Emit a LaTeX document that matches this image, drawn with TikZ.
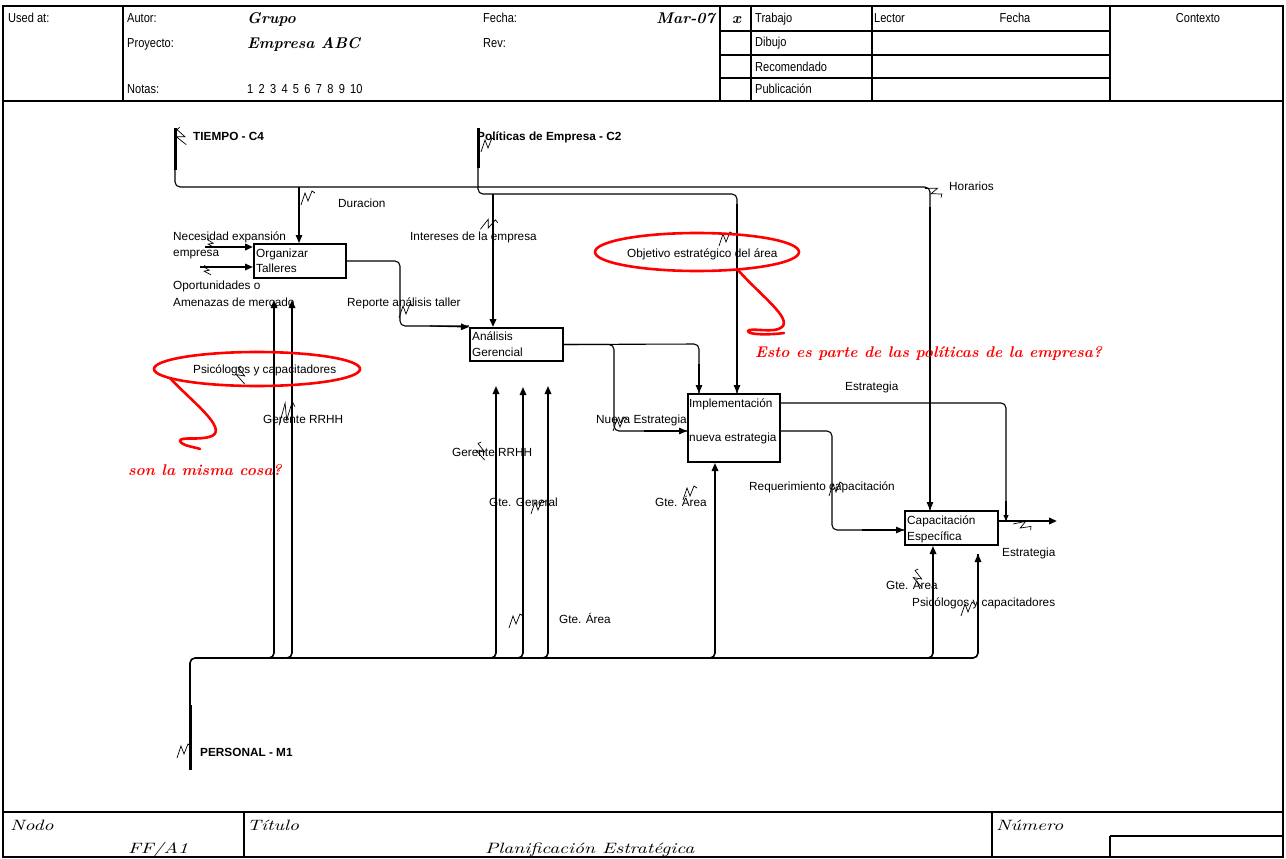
\documentclass[tikz,border=0pt]{standalone}
\usepackage{fontspec}
\newfontfamily\arial{Liberation Sans}
\newfontfamily\arialn[FakeStretch=0.85]{Liberation Sans}
\newfontfamily\footfont[FakeStretch=1.3]{lmroman10-italic.otf}
\usetikzlibrary{arrows.meta,calc}
\tikzset{
 lbl/.style={font=\arial\fontsize{11.8}{13}\selectfont, inner sep=0pt, anchor=base west},
 blbl/.style={font=\arial\bfseries\fontsize{11.8}{13}\selectfont, inner sep=0pt, anchor=base west},
 hdr/.style={font=\arialn\fontsize{13}{15}\selectfont, inner sep=0pt, anchor=base west},
 hscript/.style={font=\bfseries\itshape\fontsize{15.5}{18}\selectfont, inner sep=0pt, anchor=base west},
 fscript/.style={font=\footfont\fontsize{15}{17}\selectfont, inner sep=0pt, anchor=base west},
 redtxt/.style={font=\bfseries\itshape\fontsize{15.5}{17}\selectfont, text=red, inner sep=0pt, anchor=base west},
 frame/.style={line width=2.4pt},
 rowline/.style={line width=1.8pt},
 actbox/.style={draw, line width=2pt, inner sep=0pt, anchor=north west},
 conn/.style={line width=1.1pt, rounded corners=5pt},
 mconn/.style={line width=1.6pt, rounded corners=5pt},
 tconn/.style={line width=2pt, rounded corners=5pt},
 tip/.style={-{Triangle[length=8pt,width=6.5pt]}},
 stip/.style={-{Triangle[length=6pt,width=5pt]}},
 stub/.style={line width=3pt},
 redline/.style={red, line width=2.6pt, line cap=round, line join=round},
 squig/.pic={\draw[line width=0.7pt] (-7,6) -- (-3,-6) -- (0,2) -- (4,-8) -- (7,-6);}
}
\begin{document}
\begin{tikzpicture}[x=1pt,y=-1pt]
\useasboundingbox (0,0) rectangle (1286,859);
% ---------- frame ----------
\draw[frame] (3,6) rectangle (1283,857);
\draw[frame] (3,101) -- (1283,101);
\draw[frame] (3,812) -- (1283,812);
\foreach \x in {123,720,751,872,1110} \draw[frame] (\x,6) -- (\x,101);
\foreach \y in {31,55,78} \draw[rowline] (720,\y) -- (1110,\y);
\draw[frame] (244,812) -- (244,857);
\draw[frame] (992,812) -- (992,857);
\draw[frame] (1110,836) -- (1283,836);
\draw[frame] (1110,836) -- (1110,857);
% ---------- header text ----------
\node[hdr] (usedat) at (8,23) {Used at:};
\node[hdr] (autor) at (127,23) {Autor:};
\node[hdr] (proy) at (127,48) {Proyecto:};
\node[hdr] (notas) at (127,94) {Notas:};
\node[hscript] (grupo) at (247,24) {Grupo};
\node[hscript] (empresa) at (247,49) {Empresa ABC};
\node[hdr] (nums) at (247,94) {\spaceskip=5.3pt 1 2 3 4 5 6 7 8 9 10};
\node[hdr] (fecha) at (483,23) {Fecha:};
\node[hdr] (rev) at (483,48) {Rev:};
\node[hscript, anchor=base east] (mar) at (715,24) {Mar-07};
\node[hscript] (xmark) at (732,24) {x};
\node[hdr] (trabajo) at (755,23) {Trabajo};
\node[hdr] (dibujo) at (755,47) {Dibujo};
\node[hdr] (recom) at (755,71) {Recomendado};
\node[hdr] (publ) at (755,94) {Publicación};
\node[hdr] (lector) at (874,23) {Lector};
\node[hdr, anchor=base] (fecha2) at (1015,23) {Fecha};
\node[hdr, anchor=base] (contexto) at (1198,23) {Contexto};
% ---------- footer text ----------
\node[fscript] (nodo) at (10,830) {Nodo};
\node[fscript] (ffa) at (128,853) {FF/A1};
\node[fscript] (titulo) at (247,830) {Título};
\node[fscript] (plan) at (485,853) {Planificación Estratégica};
\node[fscript] (numero) at (996,830) {Número};
% ---------- activity boxes ----------
\node[actbox, minimum width=92pt, minimum height=34pt] (org) at (253,243) {};
\node[actbox, minimum width=93pt, minimum height=33pt] (ana) at (469,327) {};
\node[actbox, minimum width=92pt, minimum height=68pt] (imp) at (687,393) {};
\node[actbox, minimum width=93pt, minimum height=34pt] (cap) at (904,510) {};
\node[lbl] (orgA) at (256,257) {Organizar};
\node[lbl] (orgB) at (256,272) {Talleres};
\node[lbl] (anaA) at (472,340) {Análisis};
\node[lbl] (anaB) at (472,356) {Gerencial};
\node[lbl] (impA) at (689,407) {Implementación};
\node[lbl] (impB) at (689,441) {nueva estrategia};
\node[lbl] (capA) at (907,524) {Capacitación};
\node[lbl] (capB) at (907,540) {Específica};
% ---------- coordinates ----------
\coordinate (tiempo) at (175,128);
\coordinate (tiempoB) at (175,170);
\coordinate (tH) at (299,187);
\coordinate (tR) at (930,187);
\coordinate (pol) at (478,128);
\coordinate (polB) at (478,168);
\coordinate (pH) at (493,194);
\coordinate (pR) at (737,194);
\coordinate (in1) at (205,247);
\coordinate (in2) at (200,267);
\coordinate (rep) at (400,326);
\coordinate (ns) at (614,431);
\coordinate (nsB) at (699,344);
\coordinate (estr) at (1006,403);
\coordinate (junc) at (1006,521);
\coordinate (req) at (832,431);
\coordinate (capout) at (1057,521);
\coordinate (pers) at (190,770);
\coordinate (persB) at (190,705);
\coordinate (mR) at (978,658);
\coordinate (mRtop) at (978,554);
% ---------- controls ----------
\draw[stub] (tiempo) -- (tiempoB);
\draw[conn] (tiempoB) -- (tiempoB |- tR) -- (tR) -- (tR |- cap.north);
\draw[conn,tip] ($(tR)+(0,20)$) -- (tR |- cap.north);
\draw[conn,tip] (tH) -- (tH |- org.north);
\draw[stub] (pol) -- (polB);
\draw[conn] (polB) -- (polB |- pR) -- (pR) -- (pR |- imp.north);
\draw[conn,tip] ($(pR)+(0,10)$) -- (pR |- imp.north);
\draw[tconn,tip] (pH) -- (pH |- ana.north);
% ---------- inputs ----------
\draw[tconn,tip] (in1) -- (in1 -| org.west);
\draw[mconn,tip] (in2) -- (in2 -| org.west);
% ---------- outputs ----------
\draw[conn] (org.east) -- (org.east -| rep) -- (rep) -- (rep -| ana.west);
\draw[conn,tip] ($(rep)+(30,0)$) -- (ana.north west);
\draw[conn] (ana.east) -- (ana.east -| ns) -- (ns) -- (ns -| imp.west);
\draw[conn,tip] ($(ns)+(30,0)$) -- (ns -| imp.west);
\draw[conn] (ana.east) -- (nsB) -- (nsB |- imp.north);
\draw[conn,tip] ($(nsB)+(0,20)$) -- (nsB |- imp.north);
\draw[conn] ($(imp.north east)+(0,10)$) -- (estr) -- (junc);
\draw[conn,stip] ($(junc)+(0,-20)$) -- (junc);
\draw[conn] ($(imp.north east)+(0,38)$) -- (req) -- ($(req)+(0,99)$) -- ($(cap.north west)+(0,20)$);
\draw[conn,tip] ($(req)+(30,99)$) -- ($(cap.north west)+(0,20)$);
\draw[tconn,tip] ($(cap.north east)+(0,11)$) -- (capout);
% ---------- mechanisms ----------
\draw[stub] (pers) -- (persB);
\draw[mconn] (persB) -- (persB |- mR) -- (mR) -- (mRtop);
\draw[mconn,tip] ($(mR)+(0,-40)$) -- (mRtop);
\foreach \x/\t in {274/300, 292/300, 496/386, 523/387, 548/386} {
  \draw[mconn,tip] (\x-10,658) -- (\x,658) -- (\x,\t);
}
\coordinate (m715) at (715,658);
\coordinate (m933) at (933,658);
\draw[mconn,tip] ($(m715)+(-10,0)$) -- (m715) -- (m715 |- imp.south);
\draw[mconn,tip] ($(m933)+(-10,0)$) -- (m933) -- (m933 |- cap.south);
% ---------- labels ----------
\node[blbl] (lTiempo) at (193,140) {TIEMPO - C4};
\node[blbl] (lPol) at (477,140) {Políticas de Empresa - C2};
\node[lbl] (lDur) at (338,207) {Duracion};
\node[lbl] (lInt) at (410,240) {Intereses de la empresa};
\node[lbl] (lObj) at (627,257) {Objetivo estratégico del área};
\node[lbl] (lHor) at (949,190) {Horarios};
\node[lbl] (lNec1) at (173,240) {Necesidad expansión};
\node[lbl] (lNec2) at (173,256) {empresa};
\node[lbl] (lOp1) at (173,289) {Oportunidades o};
\node[lbl] (lOp2) at (173,306) {Amenazas de mercado};
\node[lbl] (lRep) at (347,306) {Reporte análisis taller};
\node[lbl] (lPsi1) at (193,373) {Psicólogos y capacitadores};
\node[lbl] (lRRHH1) at (263,423) {Gerente RRHH};
\node[lbl] (lRRHH2) at (452,456) {Gerente RRHH};
\node[lbl] (lGG) at (489,506) {Gte. General};
\node[lbl] (lGA1) at (559,623) {Gte. Área};
\node[lbl] (lNE) at (596,423) {Nueva Estrategia};
\node[lbl] (lGA2) at (655,506) {Gte. Área};
\node[lbl] (lEst1) at (845,390) {Estrategia};
\node[lbl] (lReq) at (749,490) {Requerimiento capacitación};
\node[lbl] (lEst2) at (1002,556) {Estrategia};
\node[lbl] (lGA3) at (886,589) {Gte. Área};
\node[lbl] (lPsi2) at (912,606) {Psicólogos y capacitadores};
\node[blbl] (lPers) at (200,756) {PERSONAL - M1};
% ---------- squiggles ----------
\pic[rotate=70] at (183,136) {squig};
\pic at (488,146) {squig};
\pic at (308,199) {squig};
\pic[rotate=-20] at (489,226) {squig};
\pic at (726,240) {squig};
\pic[rotate=-70] at (933,193) {squig};
\pic[scale=0.6, rotate=80] at (212,243) {squig};
\pic[scale=0.6, rotate=80] at (208,270) {squig};
\pic at (406,312) {squig};
\pic at (620,425) {squig};
\pic at (836,490) {squig};
\pic at (690,494) {squig};
\pic[yscale=2, rotate=-10] at (287,416) {squig};
\pic[rotate=60] at (243,375) {squig};
\pic[rotate=60] at (483,451) {squig};
\pic at (538,508) {squig};
\pic at (516,622) {squig};
\pic[rotate=60] at (920,578) {squig};
\pic at (968,610) {squig};
\pic[rotate=-60] at (1022,527) {squig};
\pic at (184,752) {squig};
% ---------- red annotations ----------
\draw[red, line width=2.6pt] (697,252) ellipse[x radius=102pt, y radius=19pt];
\draw[red, line width=2.6pt] (257,369) ellipse[x radius=103pt, y radius=17pt];
\draw[redline] (738,270) .. controls (760,295) and (792,318) .. (782,327)
   .. controls (775,334) and (750,327) .. (748,331)
   .. controls (748,335) and (770,335) .. (784,333);
\draw[redline] (170,378) .. controls (190,400) and (228,428) .. (212,436)
   .. controls (200,441) and (180,436) .. (180,441)
   .. controls (182,446) and (195,447) .. (200,449);
\node[redtxt] (rTop) at (755,357) {Esto es parte de las políticas de la empresa?};
\node[redtxt] (rLeft) at (128,475) {son la misma cosa?};
\end{tikzpicture}
\end{document}
